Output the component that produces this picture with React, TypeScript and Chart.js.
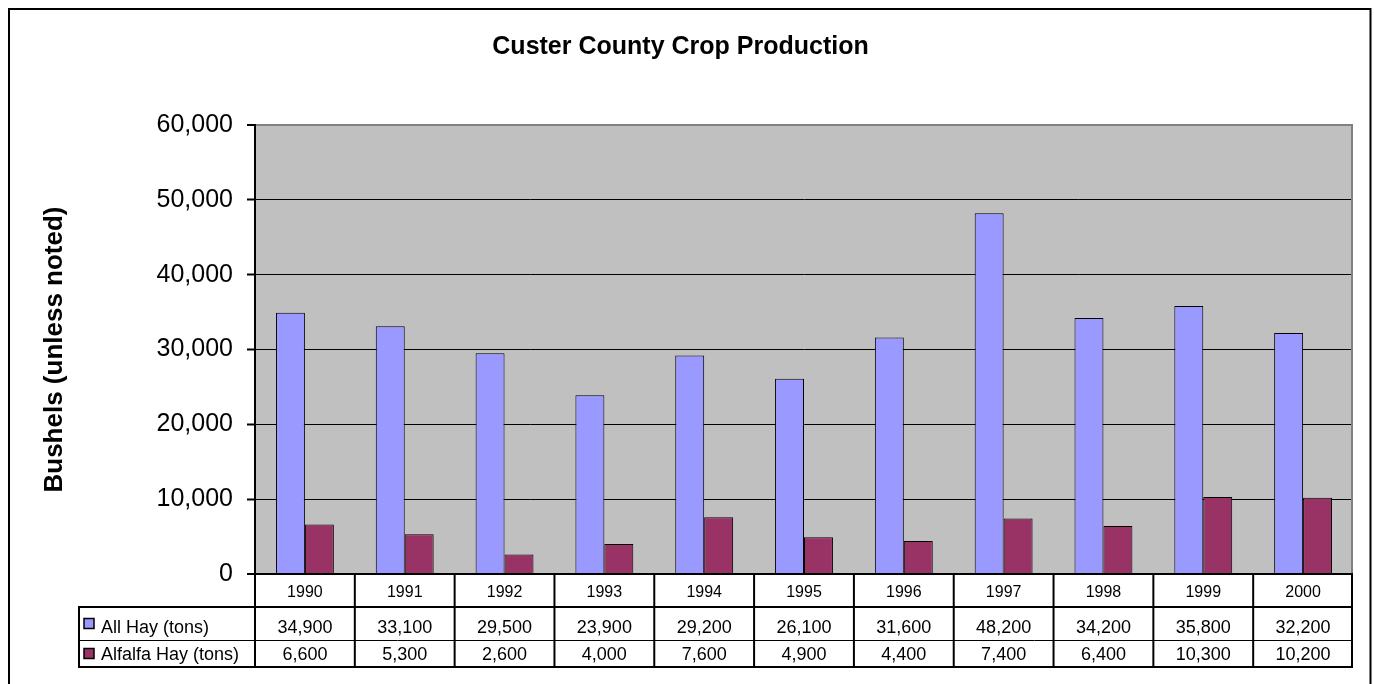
import React, { useEffect, useRef } from "react";
import { Chart, registerables } from "chart.js";

Chart.register(...registerables);

// ---- data ----
const years = ["1990", "1991", "1992", "1993", "1994", "1995", "1996", "1997", "1998", "1999", "2000"];
const allHay = [34900, 33100, 29500, 23900, 29200, 26100, 31600, 48200, 34200, 35800, 32200];
const alfalfaHay = [6600, 5300, 2600, 4000, 7600, 4900, 4400, 7400, 6400, 10300, 10200];
const seriesNames = ["All Hay (tons)", "Alfalfa Hay (tons)"];
const seriesColors = ["#9999FF", "#993366"];
const yMin = 0;
const yMax = 60000;
const yStep = 10000;

const chartTitle = "Custer County Crop Production";
const yTitle = "Bushels (unless noted)";

const FONT = "'Liberation Sans', Arial, Helvetica, sans-serif";

const fmt = (v: number) => Number(v).toLocaleString("en-US");

export default function App() {
  const ref = useRef<HTMLCanvasElement | null>(null);

  useEffect(() => {
    const canvas = ref.current;
    if (!canvas) return;

    const background = {
      id: "background",
      beforeDraw(chart: any) {
        const { ctx, chartArea: a } = chart;
        ctx.save();
        ctx.fillStyle = "#FFFFFF";
        ctx.fillRect(0, 0, chart.width, chart.height);
        ctx.fillStyle = "#C0C0C0";
        ctx.fillRect(a.left, a.top, a.right - a.left, a.bottom - a.top);
        ctx.restore();
      },
    };

    const dataTable = {
      id: "dataTable",
      afterDraw(chart: any) {
        const { ctx, chartArea: a } = chart;
        const xs = chart.scales.x;
        const n = years.length;
        const w = (a.right - a.left) / n;
        const bounds: number[] = [];
        for (let i = 0; i < n; i++) bounds.push(xs.getPixelForValue(i) - w / 2);
        bounds.push(a.right);

        const top = a.bottom; // 574
        const r1 = top + 33; // 607
        const r2 = r1 + 33; // 640
        const bottom = r2 + 27; // 667
        const tableLeft = 79;

        ctx.save();
        // plot right border (gray)
        ctx.strokeStyle = "#808080";
        ctx.lineWidth = 2;
        ctx.beginPath();
        ctx.moveTo(a.right - 1, a.top);
        ctx.lineTo(a.right - 1, a.bottom);
        ctx.stroke();

        // x axis line
        ctx.strokeStyle = "#000";
        ctx.lineWidth = 2;
        ctx.beginPath();
        ctx.moveTo(a.left, top);
        ctx.lineTo(a.right, top);
        ctx.stroke();

        // vertical lines
        ctx.beginPath();
        bounds.forEach((bx, i) => {
          const xx = i === n ? bx - 1 : bx;
          ctx.moveTo(xx, top);
          ctx.lineTo(xx, bottom);
        });
        ctx.moveTo(tableLeft, r1);
        ctx.lineTo(tableLeft, bottom);
        ctx.stroke();

        // horizontal lines
        ctx.beginPath();
        ctx.moveTo(tableLeft - 1, r1);
        ctx.lineTo(a.right, r1);
        ctx.moveTo(tableLeft - 1, bottom);
        ctx.lineTo(a.right, bottom);
        ctx.stroke();
        ctx.lineWidth = 1;
        ctx.beginPath();
        ctx.moveTo(tableLeft, r2 + 0.5);
        ctx.lineTo(a.right, r2 + 0.5);
        ctx.stroke();

        // category labels
        ctx.fillStyle = "#000";
        ctx.textAlign = "center";
        ctx.textBaseline = "alphabetic";
        ctx.font = `16px ${FONT}`;
        years.forEach((y, i) => {
          ctx.fillText(y, xs.getPixelForValue(i), top + 23);
        });

        // data rows
        const rows = [
          { vals: allHay, y0: r1, y1: r2, base: r1 + 26 },
          { vals: alfalfaHay, y0: r2, y1: bottom, base: r2 + 20 },
        ];
        ctx.font = `18px ${FONT}`;
        rows.forEach((row, ri) => {
          ctx.textAlign = "center";
          row.vals.forEach((v, i) => {
            ctx.fillText(fmt(v), xs.getPixelForValue(i), row.base);
          });
          // legend key
          const cy = (row.y0 + row.y1) / 2;
          ctx.fillStyle = seriesColors[ri];
          ctx.fillRect(84, cy - 5, 10, 10);
          ctx.strokeStyle = "#000";
          ctx.lineWidth = 1.5;
          ctx.strokeRect(84, cy - 5, 10, 10);
          ctx.fillStyle = "#000";
          ctx.textAlign = "left";
          ctx.fillText(seriesNames[ri], 101, row.base);
        });

        // outer chart border
        ctx.strokeStyle = "#000";
        ctx.lineWidth = 2;
        ctx.strokeRect(9, 9, 1361.5, 720);
        ctx.restore();
      },
    };

    const chart = new Chart(canvas, {
      type: "bar",
      data: {
        labels: years,
        datasets: [
          {
            label: seriesNames[0],
            data: allHay,
            backgroundColor: seriesColors[0],
            borderColor: "#000",
            borderWidth: 1,
          },
          {
            label: seriesNames[1],
            data: alfalfaHay,
            backgroundColor: seriesColors[1],
            borderColor: "#000",
            borderWidth: 1,
          },
        ],
      },
      options: {
        responsive: false,
        animation: false,
        events: [],
        layout: { padding: { left: 8, top: 8, right: 21, bottom: 110 } },
        datasets: {
          bar: { categoryPercentage: 0.58, barPercentage: 1 },
        },
        plugins: {
          legend: { display: false },
          tooltip: { enabled: false },
          title: {
            display: true,
            text: chartTitle,
            color: "#000",
            font: { family: FONT, size: 25, weight: "bold" },
            padding: { top: 24, bottom: 63 },
          },
        },
        scales: {
          x: {
            display: false,
            offset: true,
            grid: { display: false },
          },
          y: {
            min: yMin,
            max: yMax,
            afterFit(scale: any) {
              scale.width = 247;
            },
            ticks: {
              stepSize: yStep,
              color: "#000",
              padding: 14,
              font: { family: FONT, size: 25 },
              callback: (v: any) => fmt(v),
            },
            grid: {
              color: (c: any) => (c.tick && c.tick.value === yMax ? "#808080" : "#000"),
              lineWidth: (c: any) => (c.tick && (c.tick.value === yMax || c.tick.value === yMin) ? 2 : 1),
              tickColor: "#000",
              tickWidth: 2,
              tickLength: 8,
            },
            border: { display: true, color: "#000", width: 2 },
            title: {
              display: true,
              text: yTitle,
              color: "#000",
              font: { family: FONT, size: 26, weight: "bold" },
              padding: { top: 31, bottom: 0 },
            },
          },
        },
      },
      plugins: [background, dataTable],
    } as any);

    return () => chart.destroy();
  }, []);

  return (
    <div style={{ position: "absolute", left: 0, top: 0, width: 1374, height: 684 }}>
      <canvas ref={ref} width={1374} height={684} style={{ display: "block", width: 1374, height: 684 }} />
    </div>
  );
}
